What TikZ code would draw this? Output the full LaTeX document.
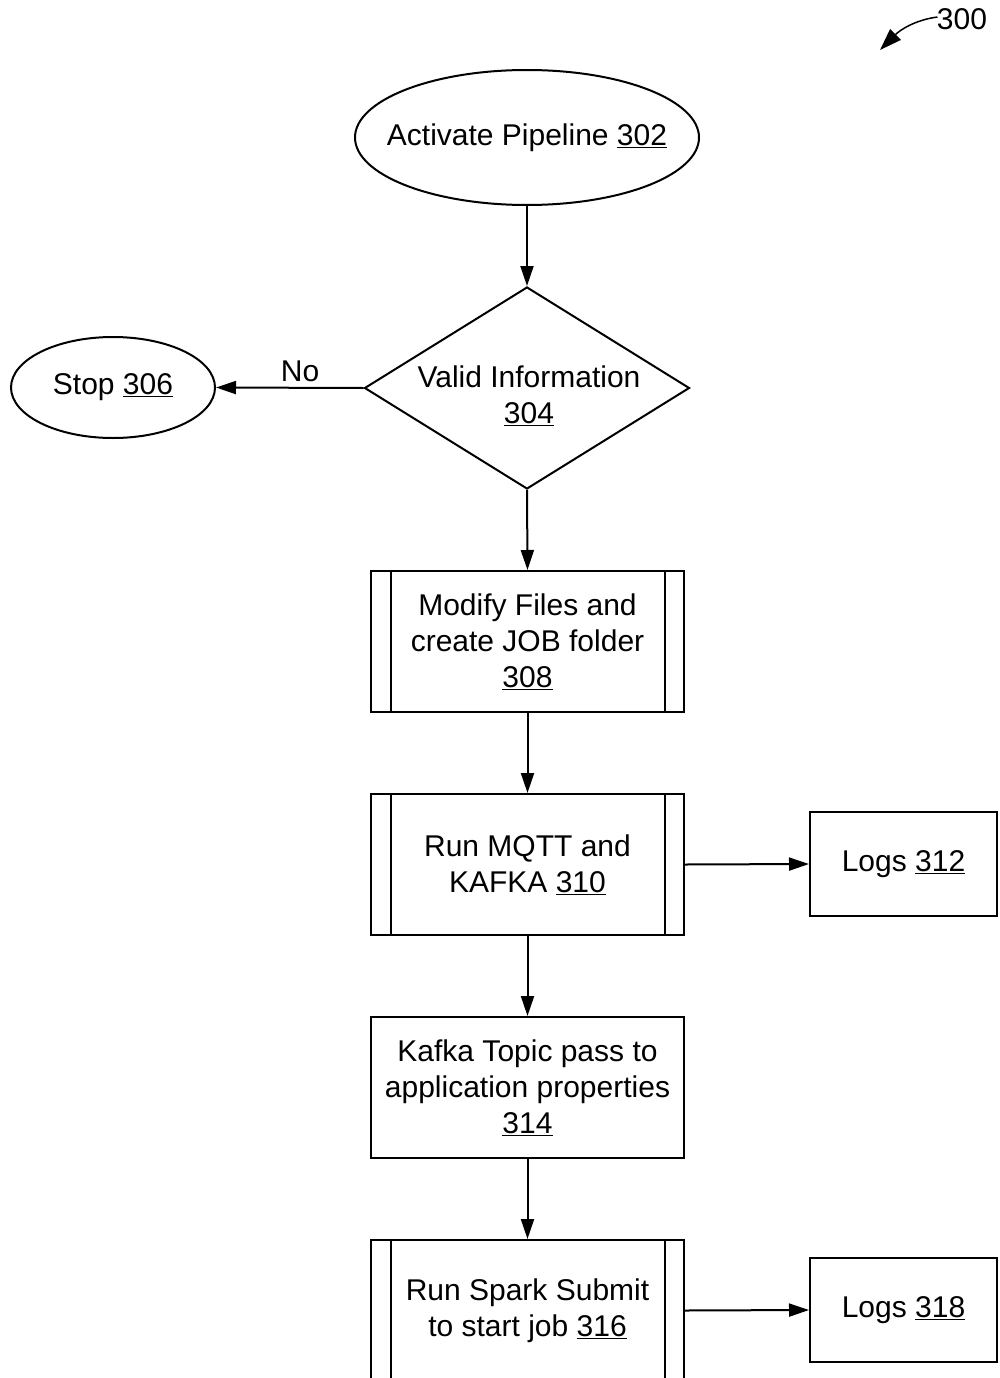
\documentclass[tikz,border=0pt]{standalone}
\usepackage{fontspec}
\setmainfont{Liberation Sans}
\usetikzlibrary{shapes.geometric,arrows.meta}
\begin{document}
\begin{tikzpicture}[x=1pt,y=-1pt,
  every node/.style={font=\fontsize{30}{36}\selectfont, align=center},
  line/.style={line width=2pt},
  conn/.style={line width=2pt, -{Triangle[length=20pt,width=13pt]}},
  oval/.style={ellipse, draw, line width=2pt, inner xsep=-30pt, inner ysep=0pt},
  boxnode/.style={rectangle, draw, line width=2pt, inner sep=0pt, minimum width=313pt, minimum height=141pt},
  logbox/.style={rectangle, draw, line width=2pt, inner sep=0pt, minimum width=187pt, minimum height=104pt}
]
\useasboundingbox (0,0) rectangle (999,1378);
\clip (0,0) rectangle (999,1378);

\node[oval, minimum width=344pt, minimum height=135pt] (n302) at (527,137.5) {Activate Pipeline \underline{302}};
\node[diamond, draw, line width=2pt, inner sep=0pt, minimum width=325pt, minimum height=202pt] (n304) at (527,388) {};
\node (t304) at (529,396) {Valid Information\\\underline{304}};
\node[oval, inner xsep=-10pt, minimum width=204pt, minimum height=101pt] (n306) at (113,387.5) {Stop \underline{306}};

\node[boxnode] (n308) at (527.5,641.5) {Modify Files and\\create JOB folder\\\underline{308}};
\node[boxnode] (n310) at (527.5,864.5) {Run MQTT and\\KAFKA \underline{310}};
\node[logbox] (n312) at (903.5,864) {Logs \underline{312}};
\node[boxnode] (n314) at (527.5,1087.5) {Kafka Topic pass to\\application properties\\\underline{314}};
\node[boxnode] (n316) at (527.5,1310.5) {Run Spark Submit\\to start job \underline{316}};
\node[logbox] (n318) at (903.5,1310) {Logs \underline{318}};

\foreach \b in {n308,n310,n316}{
  \draw[line] ([xshift=20.5pt]\b.north west) -- ([xshift=20.5pt]\b.south west);
  \draw[line] ([xshift=-20.5pt]\b.north east) -- ([xshift=-20.5pt]\b.south east);
}

\draw[conn] (n302.south) -- (n304.north);
\draw[conn] (n304.west) -- node[pos=0.43, above=2pt] {No} (n306.east);
\draw[conn] (n304.south) -- (n308.north);
\draw[conn] (n308.south) -- (n310.north);
\draw[conn] (n310.east) -- (n312.west);
\draw[conn] (n310.south) -- (n314.north);
\draw[conn] (n314.south) -- (n316.north);
\draw[conn] (n316.east) -- (n318.west);

\node (l300) at (962,19) {300};
\coordinate (a300) at (880,50);
\draw[line width=1.5pt, -{Triangle[length=22pt,width=15pt]}] ([xshift=4pt,yshift=2pt]l300.west) .. controls (915,20) and (900,30) .. (a300);
\end{tikzpicture}
\end{document}
